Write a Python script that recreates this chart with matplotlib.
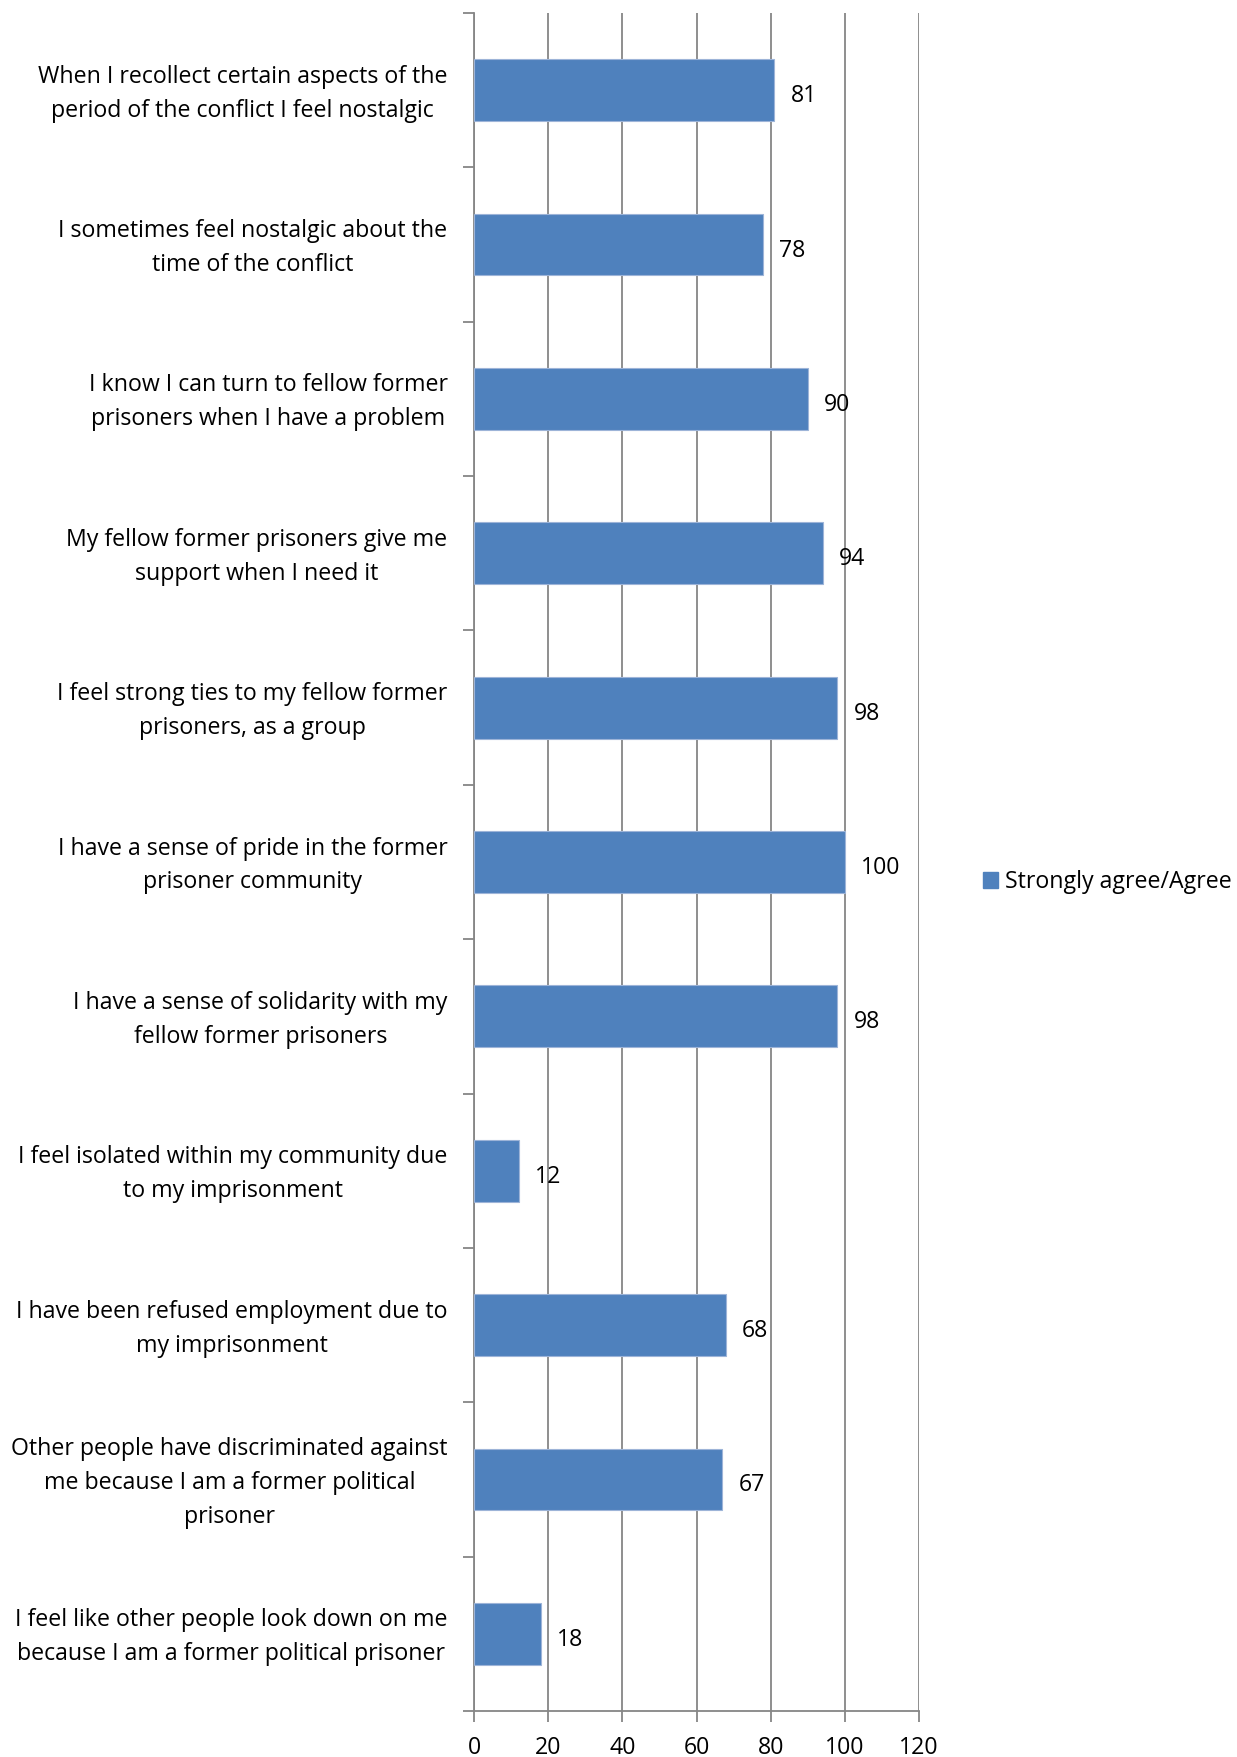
import numpy as np
import matplotlib.pyplot as plt
import matplotlib.transforms as mtransforms
from matplotlib.patches import Patch

# Datos (de arriba hacia abajo)
statements = [
    "When I recollect certain aspects of the\nperiod of the conflict I feel nostalgic",
    "I sometimes feel nostalgic about the\ntime of the conflict",
    "I know I can turn to fellow former\nprisoners when I have a problem",
    "My fellow former prisoners give me\nsupport when I need it",
    "I feel strong ties to my fellow former\nprisoners, as a group",
    "I have a sense of pride in the former\nprisoner community",
    "I have a sense of solidarity with my\nfellow former prisoners",
    "I feel isolated within my community due\nto my imprisonment",
    "I have been refused employment due to\nmy imprisonment",
    "Other people have discriminated against\nme because I am a former political\nprisoner",
    "I feel like other people look down on me\nbecause I am a former political prisoner",
]
agree = [81, 78, 90, 94, 98, 100, 98, 12, 68, 67, 18]
x_ticks = [0, 20, 40, 60, 80, 100, 120]

bar_color = "#4F81BD"
grid_color = "#868686"
fs = 16.7

plt.rcParams['font.family'] = ['Open Sans', 'DejaVu Sans']

fig = plt.figure(figsize=(12.37, 17.57), dpi=100)
ax = fig.add_axes([474 / 1237, 1 - 1711 / 1757, (919 - 474) / 1237, (1711 - 13) / 1757])

y = np.arange(len(statements))
ax.barh(y, agree, height=0.4, color=bar_color, edgecolor="#9db4d8",
        linewidth=0.8, zorder=3)

for yi, v in zip(y, agree):
    ax.annotate(str(v), xy=(v, yi), xytext=(16, -6), textcoords="offset pixels",
                ha="left", va="center", fontsize=fs, color="black", zorder=4)

ax.set_xlim(0, 120)
ax.set_ylim(len(statements) - 0.5, -0.5)
ax.set_xticks(x_ticks)
ax.xaxis.grid(True, color=grid_color, linewidth=1.3, zorder=0)
ax.set_axisbelow(True)

# marcas de categoria entre barras
ax.set_yticks(np.arange(len(statements) + 1) - 0.5, minor=False)
ax.set_yticklabels([])
ax.set_yticks(y, minor=True)
ax.set_yticklabels(statements, minor=True, fontsize=fs, multialignment="center",
                   linespacing=1.55, va="center")
ax.tick_params(axis="y", which="minor", length=0, pad=19)
ax.tick_params(axis="y", which="major", length=8, width=1.3, color=grid_color)
ax.tick_params(axis="x", length=8, width=1.3, color=grid_color, labelsize=fs, pad=10)

shift = mtransforms.ScaledTranslation(0, -0.035, fig.dpi_scale_trans)
for lbl in ax.get_yticklabels(minor=True):
    lbl.set_transform(lbl.get_transform() + shift)

for s in ["top", "right"]:
    ax.spines[s].set_visible(False)
for s in ["left", "bottom"]:
    ax.spines[s].set_color(grid_color)
    ax.spines[s].set_linewidth(1.3)

fig.legend(handles=[Patch(color=bar_color, label="Strongly agree/Agree")],
           loc="center left", bbox_to_anchor=(0.795, 1 - 882 / 1757),
           frameon=False, fontsize=fs, handlelength=0.65, handleheight=0.65,
           handletextpad=0.3, borderpad=0, borderaxespad=0)

fig.savefig("out.png", dpi=100)
